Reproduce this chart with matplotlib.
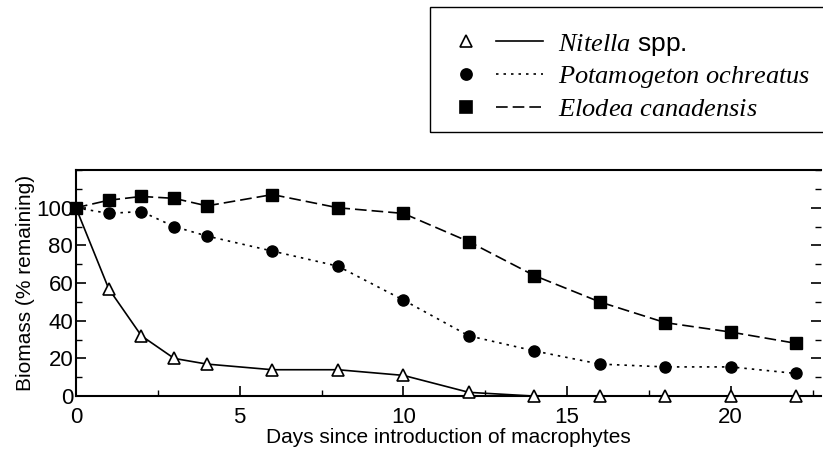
import matplotlib
matplotlib.use("Agg")
import matplotlib.pyplot as plt
from matplotlib.lines import Line2D
from matplotlib.patches import Rectangle
from matplotlib.legend_handler import HandlerBase
from matplotlib.ticker import MultipleLocator

plt.rcParams['font.family'] = ['Liberation Sans', 'DejaVu Sans']
plt.rcParams['mathtext.fontset'] = 'custom'
plt.rcParams['mathtext.it'] = 'Liberation Serif:italic'
plt.rcParams['mathtext.rm'] = 'Liberation Serif'

# === Data ===
days = [0, 1, 2, 3, 4, 6, 8, 10, 12, 14, 16, 18, 20, 22]
nitella = [100, 57, 32, 20, 17, 14, 14, 11, 2, 0, 0, 0, 0, 0]
potamogeton = [100, 97, 98, 90, 85, 77, 69, 51, 32, 24, 17, 15.5, 15.5, 12]
elodea = [100, 104, 106, 105, 101, 107, 100, 97, 82, 64, 50, 39, 34, 28]

labels = [r"$\it{Nitella}$ spp.",
          r"$\it{Potamogeton\ ochreatus}$",
          r"$\it{Elodea\ canadensis}$"]

DOT = (0, (1.5, 3))
DASH = (0, (7, 3))


# legend handle: marker on the left, separate line segment on the right
class MarkerThenLine(HandlerBase):
    def create_artists(self, legend, orig_handle, xdescent, ydescent,
                       width, height, fontsize, trans):
        mk, mfc, ls = orig_handle.spec
        y = height / 2 - ydescent
        x0 = -xdescent
        m = Line2D([x0 + 0.135 * width], [y], ls='none', marker=mk, ms=8,
                   mfc=mfc, mec='black', mew=1.2, transform=trans)
        l = Line2D([x0 + 0.48 * width, x0 + width], [y, y], color='black',
                   lw=1.2, ls=ls, transform=trans)
        return [m, l]


class Spec:
    def __init__(self, mk, mfc, ls):
        self.spec = (mk, mfc, ls)


fig = plt.figure(figsize=(8.23, 4.66), dpi=100)
ax = fig.add_axes([0.0923, 0.150, 0.905, 0.485])

ax.plot(days, nitella, color='black', lw=1.2, ls='-', marker='^', ms=9,
        mfc='white', mec='black', mew=1.2, clip_on=False, zorder=3)
ax.plot(days, potamogeton, color='black', lw=1.2, ls=DOT, marker='o', ms=8,
        mfc='black', mec='black', clip_on=False, zorder=3)
ax.plot(days, elodea, color='black', lw=1.2, ls=DASH, marker='s', ms=8,
        mfc='black', mec='black', clip_on=False, zorder=3)

ax.set_xlim(0, 22.75)
ax.set_ylim(0, 120)
ax.xaxis.set_major_locator(MultipleLocator(5))
ax.xaxis.set_minor_locator(MultipleLocator(2.5))
ax.yaxis.set_minor_locator(MultipleLocator(10))
ax.set_yticks([0, 20, 40, 60, 80, 100])
ax.tick_params(which='both', direction='in', right=True, labelsize=16)
ax.tick_params(which='major', length=7, width=1.2)
ax.tick_params(which='minor', length=4, width=1.0)
ax.tick_params(axis='x', pad=8)
ax.tick_params(axis='y', pad=2)
for s in ['left', 'bottom', 'top']:
    ax.spines[s].set_linewidth(1.5)
ax.spines['right'].set_visible(False)

ax.set_xlabel("Days since introduction of macrophytes", fontsize=15, labelpad=0)
ax.set_ylabel("Biomass (% remaining)", fontsize=15, labelpad=1)

# legend box (runs off the right edge as in the original)
fig.patches.append(Rectangle((0.5225, 0.7167), 0.5, 0.268, transform=fig.transFigure,
                             fill=False, edgecolor='black', lw=1.0, clip_on=False))

handles = [Spec('^', 'white', '-'), Spec('o', 'black', DOT), Spec('s', 'black', DASH)]
leg = fig.legend(handles, labels, loc='upper left',
                 bbox_to_anchor=(0.5225, 0.6, 0.6, 0.383), mode='expand',
                 handler_map={Spec: MarkerThenLine()},
                 handlelength=3.37, fontsize=19, frameon=False,
                 borderpad=0.9, labelspacing=0.25,
                 handletextpad=0.57, borderaxespad=0)

fig.savefig("out.png", dpi=100)
